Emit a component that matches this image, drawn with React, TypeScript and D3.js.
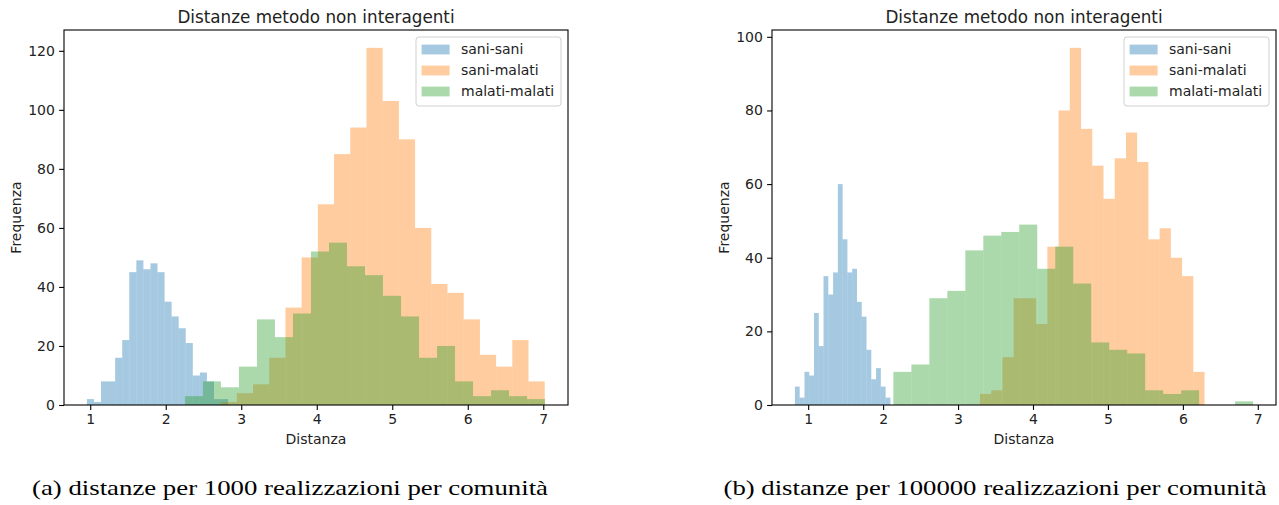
import React, { useRef, useEffect } from 'react';
import * as d3 from 'd3';

const labels = ['sani-sani', 'sani-malati', 'malati-malati'];
const colors = ['#1f77b4', '#ff7f0e', '#2ca02c'];

// (a) 1000 realizzazioni: counts per bin (20 bins each)
const aSaniSani = [2, 1, 8, 8, 16, 22, 45, 49, 46, 48, 45, 35, 30, 26, 21, 10, 11, 8, 2, 2];
const aSaniMalati = [1, 4, 7, 16, 33, 50, 68, 85, 94, 121, 103, 90, 60, 41, 38, 29, 17, 13, 22, 8];
const aMalatiMalati = [3, 8, 6, 13, 29, 23, 31, 52, 55, 47, 44, 37, 30, 16, 20, 8, 3, 5, 3, 2];
// min / max distance of each series (bin range)
const aRanges = [[0.956, 2.826], [2.727, 7.019], [2.254, 7.024]];

// (b) 100000 realizzazioni
const bSaniSani = [5, 2, 9, 8, 25, 16, 35, 30, 36, 60, 45, 36, 37, 28, 24, 15, 7, 10, 5, 2];
const bSaniMalati = [3, 4, 13, 29, 29, 22, 43, 80, 97, 75, 65, 56, 67, 74, 66, 45, 48, 40, 35, 9];
const bMalatiMalati = [9, 11, 29, 31, 42, 46, 47, 49, 37, 43, 33, 17, 15, 14, 4, 3, 4, 0, 0, 1];
const bRanges = [[0.823, 2.097], [3.293, 6.289], [2.137, 6.937]];

const xTicks = [1, 2, 3, 4, 5, 6, 7];
const aYTicks = [0, 20, 40, 60, 80, 100, 120];
const bYTicks = [0, 20, 40, 60, 80, 100];

const title = 'Distanze metodo non interagenti';
const xLabel = 'Distanza';
const yLabel = 'Frequenza';
const captionA = '(a) distanze per 1000 realizzazioni per comunità';
const captionB = '(b) distanze per 100000 realizzazioni per comunità';

const FONT = 'DejaVu Sans, sans-serif';

function drawPanel(g, counts, ranges, yTicks, left, right, top, bottom) {
  const lo = d3.min(ranges, r => r[0]);
  const hi = d3.max(ranges, r => r[1]);
  const pad = (hi - lo) * 0.05;
  const x = d3.scaleLinear().domain([lo - pad, hi + pad]).range([left, right]);
  const yMax = d3.max(counts.flat()) * 1.05;
  const y = d3.scaleLinear().domain([0, yMax]).range([bottom, top]);

  // histograms, drawn in order so green sits on top
  counts.forEach((c, s) => {
    const [a, b] = ranges[s];
    const w = (b - a) / c.length;
    const bins = c.map((v, i) => ({ x0: a + i * w, x1: a + (i + 1) * w, v })).filter(d => d.v > 0);
    g.append('g')
      .selectAll('rect')
      .data(bins)
      .join('rect')
      .attr('x', d => x(d.x0))
      .attr('width', d => x(d.x1) - x(d.x0))
      .attr('y', d => y(d.v))
      .attr('height', d => y(0) - y(d.v))
      .attr('fill', colors[s])
      .attr('fill-opacity', 0.4);
  });

  // axes
  const xAxis = d3.axisBottom(x).tickValues(xTicks).tickSize(4.9).tickPadding(4.2).tickFormat(d3.format('d'));
  const yAxis = d3.axisLeft(y).tickValues(yTicks).tickSize(4.9).tickPadding(4.2).tickFormat(d3.format('d'));
  const gx = g.append('g').attr('transform', `translate(0,${bottom})`).call(xAxis);
  const gy = g.append('g').attr('transform', `translate(${left},0)`).call(yAxis);
  [gx, gy].forEach(ax => {
    ax.select('.domain').remove();
    ax.selectAll('line').attr('stroke', '#000').attr('stroke-width', 1.1);
    ax.selectAll('text').attr('fill', '#222').style('font-family', FONT).style('font-size', '14px');
  });

  // spines
  g.append('rect')
    .attr('x', left).attr('y', top)
    .attr('width', right - left).attr('height', bottom - top)
    .attr('fill', 'none').attr('stroke', '#000').attr('stroke-width', 1.1);

  // title & labels
  g.append('text')
    .attr('x', (left + right) / 2).attr('y', top - 7.5)
    .attr('text-anchor', 'middle')
    .style('font-family', FONT).style('font-size', '16.8px').attr('fill', '#222')
    .text(title);
  g.append('text')
    .attr('x', (left + right) / 2).attr('y', bottom + 39)
    .attr('text-anchor', 'middle')
    .style('font-family', FONT).style('font-size', '14px').attr('fill', '#222')
    .text(xLabel);
  g.append('text')
    .attr('transform', `translate(${left - 43},${(top + bottom) / 2}) rotate(-90)`)
    .attr('text-anchor', 'middle')
    .style('font-family', FONT).style('font-size', '14px').attr('fill', '#222')
    .text(yLabel);

  // legend (upper right)
  const lw = 145, lh = 69;
  const lx = right - 7 - lw, ly = top + 7;
  const lg = g.append('g').attr('transform', `translate(${lx},${ly})`);
  lg.append('rect')
    .attr('width', lw).attr('height', lh).attr('rx', 3)
    .attr('fill', '#fff').attr('fill-opacity', 0.8)
    .attr('stroke', '#d0d0d0').attr('stroke-width', 1);
  labels.forEach((l, i) => {
    const cy = 12.5 + i * 21;
    lg.append('rect')
      .attr('x', 5.6).attr('y', cy - 4.9).attr('width', 28).attr('height', 9.8)
      .attr('fill', colors[i]).attr('fill-opacity', 0.4);
    lg.append('text')
      .attr('x', 45).attr('y', cy).attr('dy', '0.35em')
      .style('font-family', FONT).style('font-size', '14px').attr('fill', '#222')
      .text(l);
  });
}

export default function App() {
  const svgRef = useRef(null);

  useEffect(() => {
    const svg = d3.select(svgRef.current);
    svg.selectAll('*').remove();
    svg.append('rect').attr('width', 1279).attr('height', 505).attr('fill', '#fff');

    drawPanel(svg.append('g'), [aSaniSani, aSaniMalati, aMalatiMalati], aRanges, aYTicks, 64, 568, 30, 405);
    drawPanel(svg.append('g'), [bSaniSani, bSaniMalati, bMalatiMalati], bRanges, bYTicks, 772, 1276, 30, 405);

    // captions
    [[captionA, 290, 516], [captionB, 995, 543]].forEach(([t, cx, len]) => {
      svg.append('text')
        .attr('x', cx).attr('y', 495)
        .attr('text-anchor', 'middle')
        .attr('textLength', len).attr('lengthAdjust', 'spacingAndGlyphs')
        .style('font-family', 'Liberation Serif, serif').style('font-size', '21px').attr('fill', '#000')
        .text(t);
    });
  }, []);

  return (
    <svg ref={svgRef} width={1279} height={505}
      style={{ position: 'absolute', left: 0, top: 0, display: 'block' }} />
  );
}
